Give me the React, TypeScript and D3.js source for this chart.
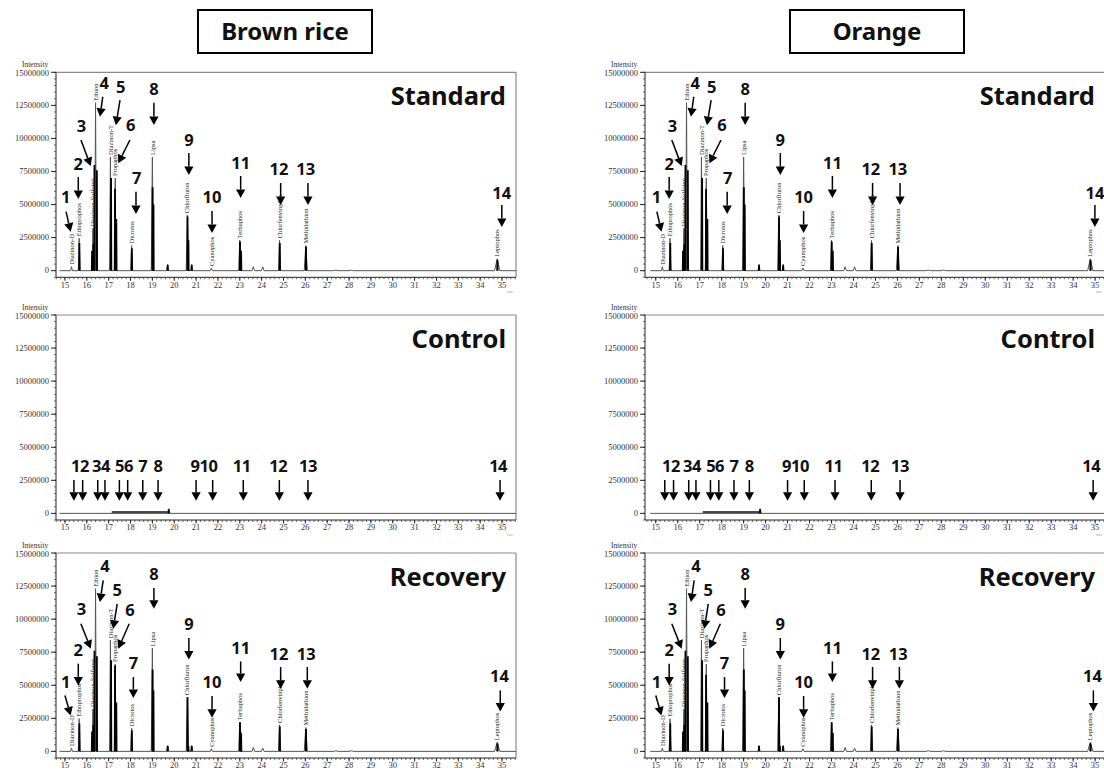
import React from 'react';
import * as d3 from 'd3';

// ---------- data ----------
const sampleNames = ['Brown rice', 'Orange'];
const panelNames = ['Standard', 'Control', 'Recovery'];

const xTickLabels = [15, 16, 17, 18, 19, 20, 21, 22, 23, 24, 25, 26, 27, 28, 29, 30, 31, 32, 33, 34, 35];
const yTickValues = [0, 2.5, 5, 7.5, 10, 12.5, 15]; // millions
const yTickLabels = ['0', '2500000', '5000000', '7500000', '10000000', '12500000', '15000000'];

const compoundNames = [
  'Diazinon-D', 'Ethoprophos', 'Diazinon-Sulfotep', 'Ethion', 'Diazinon-T', 'Propaphos',
  'Dicrotos', 'Lipsa', 'Chlorfluron', 'Cyanophos', 'Terbuphos', 'Chlorfenvinphos',
  'Methidathion', 'Leptophos',
];
const compoundPeakIndex = [0, 1, 2, 3, 4, 5, 6, 7, 9, 11, 12, 15, 16, 19];

// grey (outline) trace peaks: [retention time, intensity (millions), half width]
const stdGrey: [number, number, number][] = [
  [15.30, 0.30, 0.04], [15.65, 2.45, 0.04], [16.28, 3.2, 0.03], [16.40, 12.7, 0.04],
  [17.08, 8.6, 0.04], [17.30, 7.0, 0.04], [18.05, 1.9, 0.04], [19.00, 8.6, 0.05],
  [19.70, 0.5, 0.04], [20.60, 4.2, 0.05], [20.80, 0.5, 0.03], [21.70, 0.2, 0.05],
  [23.00, 2.3, 0.05], [23.62, 0.3, 0.06], [24.05, 0.3, 0.06], [24.82, 2.3, 0.05],
  [26.02, 1.9, 0.07], [27.40, 0.05, 0.1], [28.10, 0.05, 0.1], [34.78, 0.9, 0.12],
];
// black (overlaid ion) peaks: [retention time, intensity (millions)]
const stdBlack: [number, number][] = [
  [15.66, 2.1], [16.24, 1.5], [16.30, 2.0], [16.35, 8.0], [16.46, 7.6], [17.11, 7.0],
  [17.29, 6.2], [17.35, 3.9], [18.06, 1.7], [19.01, 6.3], [19.05, 5.0], [19.70, 0.4],
  [20.61, 4.1], [20.65, 2.3], [20.80, 0.4], [23.01, 2.2], [23.06, 1.5], [24.83, 2.1],
  [26.03, 1.8], [34.79, 0.8],
];
const recGrey: [number, number, number][] = [
  [15.30, 0.25, 0.04], [15.65, 2.47, 0.04], [16.28, 3.2, 0.03], [16.40, 12.3, 0.04],
  [17.08, 8.4, 0.04], [17.30, 6.6, 0.04], [18.05, 1.75, 0.04], [19.00, 7.8, 0.05],
  [19.70, 0.45, 0.04], [20.60, 4.1, 0.05], [20.80, 0.45, 0.03], [21.70, 0.2, 0.05],
  [23.00, 2.2, 0.05], [23.62, 0.3, 0.06], [24.05, 0.25, 0.06], [24.82, 2.0, 0.05],
  [26.02, 1.8, 0.07], [27.40, 0.05, 0.1], [28.10, 0.05, 0.1], [34.78, 0.7, 0.12],
];
const recBlackBrown: [number, number][] = [
  [15.66, 2.1], [16.24, 1.5], [16.30, 2.0], [16.35, 7.6], [16.46, 7.2], [17.11, 6.9],
  [17.29, 6.5], [17.35, 3.7], [18.06, 1.6], [19.01, 6.2], [19.05, 4.6], [19.70, 0.4],
  [20.61, 4.1], [20.65, 0.4], [20.80, 0.4], [23.01, 2.2], [23.06, 1.4], [24.83, 1.9],
  [26.03, 1.7], [34.79, 0.6],
];
const recBlackOrange: [number, number][] = [
  [15.66, 2.1], [16.24, 1.5], [16.30, 2.0], [16.35, 7.6], [16.46, 7.2], [17.11, 6.9],
  [17.29, 5.8], [17.35, 3.7], [18.06, 1.6], [19.01, 6.2], [19.05, 4.6], [19.70, 0.4],
  [20.61, 4.1], [20.65, 0.4], [20.80, 0.4], [23.01, 2.2], [23.06, 1.4], [24.83, 1.9],
  [26.03, 1.7], [34.79, 0.6],
];

// control trace
const ctlSegment = [17.14, 19.7];
const ctlSegmentLevel = 0.1;
const ctlSpike: [number, number] = [19.75, 0.35];

// annotations (numbers + arrows), data units
const annLabels = ['1', '2', '3', '4', '5', '6', '7', '8', '9', '10', '11', '12', '13', '14'];
const stdTextRT = [15.03, 15.61, 15.76, 16.80, 17.55, 18.01, 18.28, 19.07, 20.67, 21.73, 23.04, 24.79, 26.02, 34.99];
const stdTextI = [5.59, 8.07, 10.96, 14.21, 13.91, 11.01, 6.98, 13.71, 9.88, 5.55, 8.12, 7.66, 7.66, 5.9];
const stdFromRT = [15.05, 15.61, 15.73, 16.73, 17.52, 17.97, 18.25, 19.07, 20.67, 21.73, 23.04, 24.87, 26.12, 34.99];
const stdFromI = [4.46, 7.08, 9.88, 13.15, 12.9, 9.88, 5.97, 12.7, 8.9, 4.51, 7.16, 6.63, 6.63, 4.97];
const stdToRT = [15.26, 15.61, 16.18, 16.60, 17.33, 17.44, 18.25, 19.07, 20.67, 21.73, 23.04, 24.87, 26.12, 34.99];
const stdToI = [2.95, 5.42, 7.91, 11.64, 11.0, 8.12, 4.29, 11.01, 7.23, 2.85, 5.5, 4.97, 4.97, 3.3];

const recTextRT = [15.03, 15.61, 15.76, 16.83, 17.39, 17.97, 18.13, 19.07, 20.67, 21.73, 23.04, 24.79, 26.04, 34.88];
const recTextI = [5.25, 7.69, 10.79, 14.01, 12.17, 10.66, 6.7, 13.43, 9.65, 5.25, 7.82, 7.39, 7.39, 5.7];
const recFromRT = [15.0, 15.61, 15.73, 16.75, 17.39, 17.94, 18.13, 19.07, 20.67, 21.73, 23.04, 24.87, 26.09, 34.92];
const recFromI = [4.23, 6.63, 9.65, 12.93, 11.16, 9.65, 5.62, 12.35, 8.57, 4.19, 6.8, 6.38, 6.38, 4.61];
const recToRT = [15.26, 15.61, 16.18, 16.6, 17.21, 17.44, 18.13, 19.07, 20.67, 21.73, 23.04, 24.87, 26.09, 34.92];
const recToI = [2.72, 4.99, 7.76, 11.29, 9.27, 7.76, 4.04, 10.79, 6.95, 2.55, 5.25, 4.74, 4.74, 3.02];

const ctlGroupLabels = ['12', '34', '56', '7', '8', '910', '11', '12', '13', '14'];
const ctlGroupRT = [15.69, 16.65, 17.70, 18.56, 19.26, 21.36, 23.09, 24.76, 26.12, 34.82];
const ctlArrowRT = [15.41, 15.81, 16.50, 16.83, 17.49, 17.87, 18.56, 19.26, 21.0, 21.76, 23.16, 24.81, 26.12, 34.91];
const ctlTextI = 3.55;
const ctlFromI = 2.52;
const ctlToI = 0.96;

// ---------- layout ----------
const W = 1104;
const H = 770;
const colX = [56, 645];
const colDomain: [number, number][] = [[14.59, 35.64], [14.51, 35.45]];
const rowTop = [72.3, 315, 553];
const plotW = 460;
const plotH = 205;
const traceStart = 14.75;
const numFont = "'Noto Sans', 'DejaVu Sans', sans-serif";
const axisFont = "'Liberation Serif', 'DejaVu Serif', serif";

function Arrow({ x1, y1, x2, y2 }: { x1: number; y1: number; x2: number; y2: number }) {
  const dx = x2 - x1, dy = y2 - y1;
  const len = Math.hypot(dx, dy) || 1;
  const ux = dx / len, uy = dy / len;
  const hl = 8.5, hw = 4.6;
  const bx = x2 - ux * hl, by = y2 - uy * hl;
  const nx = -uy, ny = ux;
  return (
    <g>
      <line x1={x1} y1={y1} x2={bx} y2={by} stroke="#000" strokeWidth={1.5} />
      <polygon points={`${x2},${y2} ${bx + nx * hw},${by + ny * hw} ${bx - nx * hw},${by - ny * hw}`} fill="#000" />
    </g>
  );
}

function Panel({ col, row }: { col: number; row: number }) {
  const x0 = colX[col];
  const top = rowTop[row];
  const x = d3.scaleLinear().domain(colDomain[col]).range([x0, x0 + plotW]);
  const y = d3.scaleLinear().domain([-0.5, 15]).range([top + plotH, top]);
  const bottom = top + plotH;
  const right = x0 + plotW;
  const line = d3.line<[number, number]>().x(d => x(d[0])).y(d => y(d[1]));

  const isCtl = row === 1;
  const grey = row === 0 ? stdGrey : recGrey;
  const black = row === 0 ? stdBlack : col === 0 ? recBlackBrown : recBlackOrange;

  const greyPts: [number, number][] = [[traceStart, 0]];
  if (!isCtl) {
    grey.forEach(([rt, h, w]) => {
      greyPts.push([rt - w, 0], [rt, h], [rt + w, 0]);
    });
  }
  greyPts.push([colDomain[col][1], 0]);

  const minorY = y.ticks(31);
  const minorX = x.ticks(100).filter(v => v >= 14.6);

  let annotations: React.ReactNode = null;
  if (row !== 1) {
    const tRT = row === 0 ? stdTextRT : recTextRT;
    const tI = row === 0 ? stdTextI : recTextI;
    const fRT = row === 0 ? stdFromRT : recFromRT;
    const fI = row === 0 ? stdFromI : recFromI;
    const eRT = row === 0 ? stdToRT : recToRT;
    const eI = row === 0 ? stdToI : recToI;
    annotations = annLabels.map((lab, i) => (
      <g key={lab}>
        <text x={x(tRT[i])} y={y(tI[i])} dy="0.36em" textAnchor="middle" fontFamily={numFont}
          fontWeight={700} fontSize={16.5} fill="#111">{lab}</text>
        <Arrow x1={x(fRT[i])} y1={y(fI[i])} x2={x(eRT[i])} y2={y(eI[i])} />
      </g>
    ));
  } else {
    annotations = (
      <g>
        {ctlGroupLabels.map((lab, i) => (
          <text key={i} x={x(ctlGroupRT[i])} y={y(ctlTextI)} dy="0.36em" textAnchor="middle" fontFamily={numFont}
            fontWeight={700} fontSize={16.5} letterSpacing={-0.5} fill="#111">{lab}</text>
        ))}
        {ctlArrowRT.map((rt, i) => (
          <Arrow key={i} x1={x(rt)} y1={y(ctlFromI)} x2={x(rt)} y2={y(ctlToI)} />
        ))}
      </g>
    );
  }

  return (
    <g>
      {/* frame */}
      <line x1={x0} x2={right} y1={top} y2={top} stroke="#8a8a8a" strokeWidth={1.2} />
      <line x1={right} x2={right} y1={top} y2={bottom} stroke="#8a8a8a" strokeWidth={1.2} />
      <line x1={x0} x2={x0} y1={top} y2={bottom} stroke="#222" strokeWidth={1} />
      <line x1={x0} x2={right} y1={bottom} y2={bottom} stroke="#222" strokeWidth={1} />
      {/* y ticks */}
      {minorY.map((v, i) => (
        <line key={'my' + i} x1={x0 - 2} x2={x0} y1={y(v)} y2={y(v)} stroke="#444" strokeWidth={0.8} />
      ))}
      {yTickValues.map((v, i) => (
        <g key={'y' + i}>
          <line x1={x0 - 5} x2={x0} y1={y(v)} y2={y(v)} stroke="#222" strokeWidth={1} />
          <text x={x0 - 7} y={y(v) + (i === yTickValues.length - 1 ? 1 : 0)} dy="0.33em" textAnchor="end" fontFamily={axisFont} fontSize={8.5}
            fill="#333">{yTickLabels[i]}</text>
        </g>
      ))}
      <text x={x0 - 34} y={top - 5.5} fontFamily={axisFont} fontSize={7.5} fill="#333">Intensity</text>
      {/* x ticks */}
      {minorX.map((v, i) => (
        <line key={'mx' + i} x1={x(v)} x2={x(v)} y1={bottom} y2={bottom + 2} stroke="#444" strokeWidth={0.8} />
      ))}
      {xTickLabels.map(v => (
        <g key={'x' + v}>
          <line x1={x(v)} x2={x(v)} y1={bottom} y2={bottom + 3.5} stroke="#222" strokeWidth={1} />
          <text x={x(v)} y={bottom + 7.5} dy="0.33em" textAnchor="middle" fontFamily={axisFont} fontSize={8.5}
            fill="#333">{v}</text>
        </g>
      ))}
      {row !== 2 && (
        <text x={right - 6} y={bottom + 16} textAnchor="middle" fontFamily={axisFont} fontSize={4} fill="#aaa">min</text>
      )}
      {/* traces */}
      <path d={line(greyPts) || ''} fill="none" stroke="#555" strokeWidth={1} />
      {!isCtl && black.map(([rt, h], i) => (
        <path key={'b' + i} d={line([[rt - 0.012, 0], [rt, h], [rt + 0.012, 0]]) || ''} fill="#000" stroke="#000" strokeWidth={1.8} />
      ))}
      {isCtl && (
        <g>
          <path d={line([[ctlSegment[0], ctlSegmentLevel], [ctlSegment[1], ctlSegmentLevel]]) || ''} stroke="#111" strokeWidth={1.6} fill="none" />
          <path d={line([[ctlSpike[0] - 0.03, 0], [ctlSpike[0], ctlSpike[1]], [ctlSpike[0] + 0.03, 0]]) || ''} stroke="#111" strokeWidth={1.6} fill="none" />
        </g>
      )}
      {/* compound labels */}
      {!isCtl && compoundNames.map((name, i) => {
        const [rt, h] = grey[compoundPeakIndex[i]];
        const px = x(rt), py = y(h) - 2;
        return (
          <text key={'c' + i} transform={`translate(${px},${py}) rotate(-90)`} dy="0.33em" fontFamily={axisFont}
            fontSize={6.5} fill="#222">{name}</text>
        );
      })}
      {annotations}
      {/* panel name */}
      <text x={right - 10} y={top + 33} textAnchor="end" fontFamily={numFont} fontWeight={700} fontSize={25.5}
        fill="#111">{panelNames[row]}</text>
    </g>
  );
}

export default function App() {
  const boxCenters = [285, 877];
  return (
    <svg width={W} height={H} style={{ position: 'absolute', left: 0, top: 0, background: '#fff' }}>
      <rect x={0} y={0} width={W} height={H} fill="#fff" />
      {sampleNames.map((s, i) => (
        <g key={s}>
          <rect x={boxCenters[i] - 87} y={10} width={174} height={43} fill="#fff" stroke="#000" strokeWidth={2} />
          <text x={boxCenters[i]} y={32} dy="0.35em" textAnchor="middle" fontFamily={numFont} fontWeight={700}
            fontSize={24} fill="#111">{s}</text>
        </g>
      ))}
      {[0, 1].map(c => [0, 1, 2].map(r => <Panel key={`${c}-${r}`} col={c} row={r} />))}
    </svg>
  );
}
